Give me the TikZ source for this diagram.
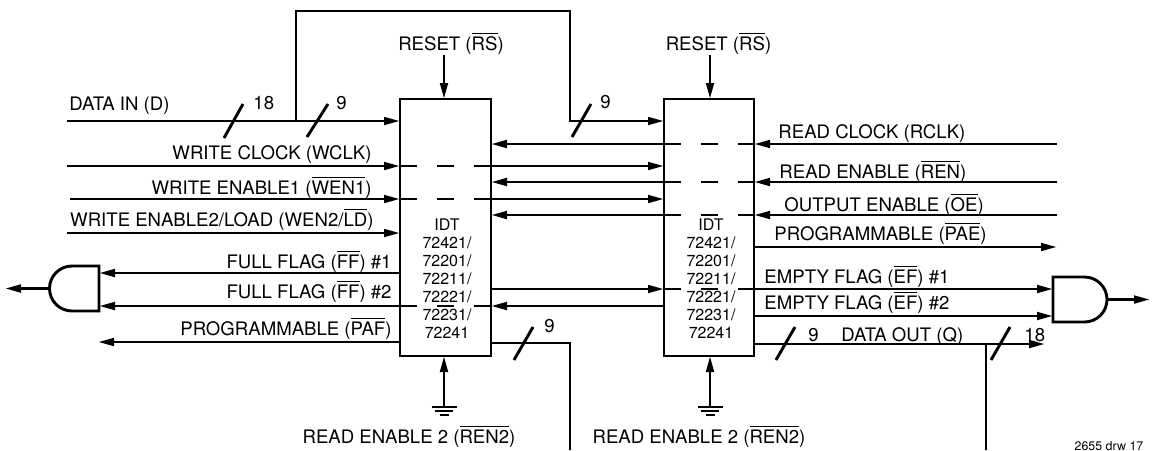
\documentclass[tikz,border=0pt]{standalone}
\usepackage{fontspec}
\setmainfont{TeX Gyre Heros}
\usetikzlibrary{arrows.meta}
\newcommand{\ovl}[1]{$\overline{\mbox{#1}}$}
\begin{document}
\begin{tikzpicture}[x=0.5pt,y=-0.5pt, line width=1.45pt,
  sig/.style={-{Triangle[length=8pt,width=3.8pt]}},
  lbl/.style={font=\fontsize{9.3}{11}\selectfont, inner sep=0pt},
  chiptxt/.style={font=\fontsize{8}{9}\selectfont, inner sep=0pt, anchor=base},
  chip/.style={draw, rectangle, inner sep=0pt, outer sep=0pt, minimum height=128.5pt},
  thru/.style={dash pattern=on 8.5pt off 10pt},
  gnd/.style={line width=1.1pt}]
\useasboundingbox (0,0) rectangle (1157,450);

% chips
\node[chip, minimum width=45.5pt, anchor=north west] (c1) at (400,99) {};
\node[chip, minimum width=45pt, anchor=north west] (c2) at (664,99) {};

% chip texts
\foreach \cx/\nm in {447/a,711/b}{
  \node[chiptxt] (\nm0) at (\cx,230.5) {IDT};
  \node[chiptxt] (\nm1) at (\cx,248.5) {72421/};
  \node[chiptxt] (\nm2) at (\cx,266.5) {72201/};
  \node[chiptxt] (\nm3) at (\cx,284.5) {72211/};
  \node[chiptxt] (\nm4) at (\cx,302.5) {72221/};
  \node[chiptxt] (\nm5) at (\cx,320.5) {72231/};
  \node[chiptxt] (\nm6) at (\cx,338.5) {72241};
}

% reset inputs
\coordinate (rs1) at (444,55);
\coordinate (rs2) at (710,55);
\draw[sig] (rs1) -- (rs1 |- c1.north);
\draw[sig] (rs2) -- (rs2 |- c2.north);
\node[lbl, anchor=base] (lrs1) at (451,50) {RESET (\ovl{RS})};
\node[lbl, anchor=base] (lrs2) at (718.5,50) {RESET (\ovl{RS})};

% ground inputs
\coordinate (g1) at (444,407);
\coordinate (g2) at (710,407);
\draw[sig] (g1) -- (g1 |- c1.south);
\draw[sig] (g2) -- (g2 |- c2.south);
\foreach \gx in {444,710}{
  \draw[gnd] (\gx-12.5,407) -- (\gx+12.5,407);
  \draw[gnd] (\gx-9,411) -- (\gx+9,411);
  \draw[gnd] (\gx-4.5,415) -- (\gx+4.5,415);
}
\node[lbl, anchor=base] (lren2a) at (409,443) {READ ENABLE 2 (\ovl{REN2})};
\node[lbl, anchor=base] (lren2b) at (699,443) {READ ENABLE 2 (\ovl{REN2})};

% DATA IN
\coordinate (din) at (67,121);
\coordinate (tap) at (296,121);
\draw[sig] (din) -- (c1.west |- din);
\draw[sig] (tap) -- (296,11) -- (570,11) -- (570,121) -- (c2.west |- tap);
\draw (224,138) -- (243,104);
\draw (307,137) -- (328,104);
\draw (572,137) -- (591,104);
\node[lbl, anchor=base west] (ldin) at (68,110) {DATA IN (D)};
\node[lbl, anchor=base west] (l18a) at (252,109) {18};
\node[lbl, anchor=base west] (l9a) at (335,109) {9};
\node[lbl, anchor=base west] (l9b) at (599,108) {9};

% WCLK
\coordinate (wclk) at (67,166);
\draw[sig] (wclk) -- (c1.west |- wclk);
\draw[thru] (c1.west |- wclk) -- (c1.east |- wclk);
\draw[sig] (c1.east |- wclk) -- (c2.west |- wclk);
\node[lbl, anchor=base east] (lwclk) at (373,159) {WRITE CLOCK (WCLK)};

% WEN1
\coordinate (wen1) at (70,199);
\draw[sig] (wen1) -- (c1.west |- wen1);
\draw[thru] (c1.west |- wen1) -- (c1.east |- wen1);
\draw[sig] (c1.east |- wen1) -- (c2.west |- wen1);
\node[lbl, anchor=base east] (lwen1) at (373,194) {WRITE ENABLE1 (\ovl{WEN1})};

% WEN2
\coordinate (wen2) at (67,233);
\draw[sig] (wen2) -- (c1.west |- wen2);
\node[lbl, anchor=base east] (lwen2) at (375,226) {WRITE ENABLE2/LOAD (WEN2/\ovl{LD})};

% left AND gate
\draw (99,266) -- (72,266) arc[start angle=270, end angle=90, radius=22.5] -- (99,311) -- cycle;
\coordinate (ga1) at (99,273);
\coordinate (ga2) at (99,306);
\coordinate (gaout) at (49.5,288.5);
\coordinate (gaend) at (5,288.5);
\draw[sig] (gaout) -- (gaend);

% FF#1
\draw[sig] (c1.west |- ga1) -- (ga1);
\node[lbl, anchor=base east] (lff1) at (393,268) {FULL FLAG (\ovl{FF}) \#1};
% FF#2
\draw[sig] (c2.west |- ga2) -- (c1.east |- ga2);
\draw[thru] (c1.west |- ga2) -- (c1.east |- ga2);
\draw[sig] (c1.west |- ga2) -- (ga2);
\node[lbl, anchor=base east] (lff2) at (393,298) {FULL FLAG (\ovl{FF}) \#2};
% PAF
\coordinate (paf) at (98,342);
\draw[sig] (c1.west |- paf) -- (paf);
\node[lbl, anchor=base east] (lpaf) at (393,335) {PROGRAMMABLE (\ovl{PAF})};

% chip1 data out
\coordinate (q1) at (570,343);
\draw (c1.east |- q1) -- (q1) -- (570,450);
\draw (514,360) -- (533,327);
\node[lbl, anchor=base west] (l9c) at (543,332) {9};

% RCLK
\coordinate (rclk) at (1057,144);
\draw[sig] (rclk) -- (c2.east |- rclk);
\draw[thru] (c2.west |- rclk) -- (c2.east |- rclk);
\draw[sig] (c2.west |- rclk) -- (c1.east |- rclk);
\node[lbl, anchor=base west] (lrclk) at (777,138) {READ CLOCK (RCLK)};

% REN
\coordinate (ren) at (1057,182);
\draw[sig] (ren) -- (c2.east |- ren);
\draw[thru] (c2.west |- ren) -- (c2.east |- ren);
\draw[sig] (c2.west |- ren) -- (c1.east |- ren);
\node[lbl, anchor=base west] (lren) at (778,178) {READ ENABLE (\ovl{REN})};

% OE
\coordinate (oe) at (1057,215);
\draw[sig] (oe) -- (c2.east |- oe);
\draw[thru] (c2.west |- oe) -- (c2.east |- oe);
\draw[sig] (c2.west |- oe) -- (c1.east |- oe);
\node[lbl, anchor=base west] (loe) at (783,211) {OUTPUT ENABLE (\ovl{OE})};

% PAE
\coordinate (pae) at (1057,247);
\draw[sig] (c2.east |- pae) -- (pae);
\node[lbl, anchor=base west] (lpae) at (773,240) {PROGRAMMABLE (\ovl{PAE})};

% right AND gate
\draw (1053,277) -- (1084.5,277) arc[start angle=270, end angle=450, radius=22.5] -- (1053,322) -- cycle;
\coordinate (gb1) at (1053,289);
\coordinate (gb2) at (1053,316);
\coordinate (gbout) at (1107,299.5);
\coordinate (gbend) at (1150,299.5);
\draw[sig] (gbout) -- (gbend);

% EF#1
\draw[sig] (c1.east |- gb1) -- (c2.west |- gb1);
\draw[thru] (c2.west |- gb1) -- (c2.east |- gb1);
\draw[sig] (c2.east |- gb1) -- (gb1);
\node[lbl, anchor=base west] (lef1) at (763,283) {EMPTY FLAG (\ovl{EF}) \#1};
% EF#2
\draw[sig] (c2.east |- gb2) -- (gb2);
\node[lbl, anchor=base west] (lef2) at (763,309) {EMPTY FLAG (\ovl{EF}) \#2};

% DATA OUT
\coordinate (qout) at (1045,344);
\draw[sig] (c2.east |- qout) -- (qout);
\draw (986,344) -- (986,450);
\draw (776,360) -- (795,327);
\draw (991,360) -- (1010,327);
\node[lbl, anchor=base west] (l9d) at (807,341) {9};
\node[lbl, anchor=base west] (ldout) at (840,341) {DATA OUT (Q)};
\node[lbl, anchor=base west] (l18b) at (1023,341) {18};

% drawing number
\node[font=\fontsize{6.2}{7}\selectfont, inner sep=0pt, anchor=base] (dno) at (1109,450) {2655 drw 17};
\end{tikzpicture}
\end{document}
